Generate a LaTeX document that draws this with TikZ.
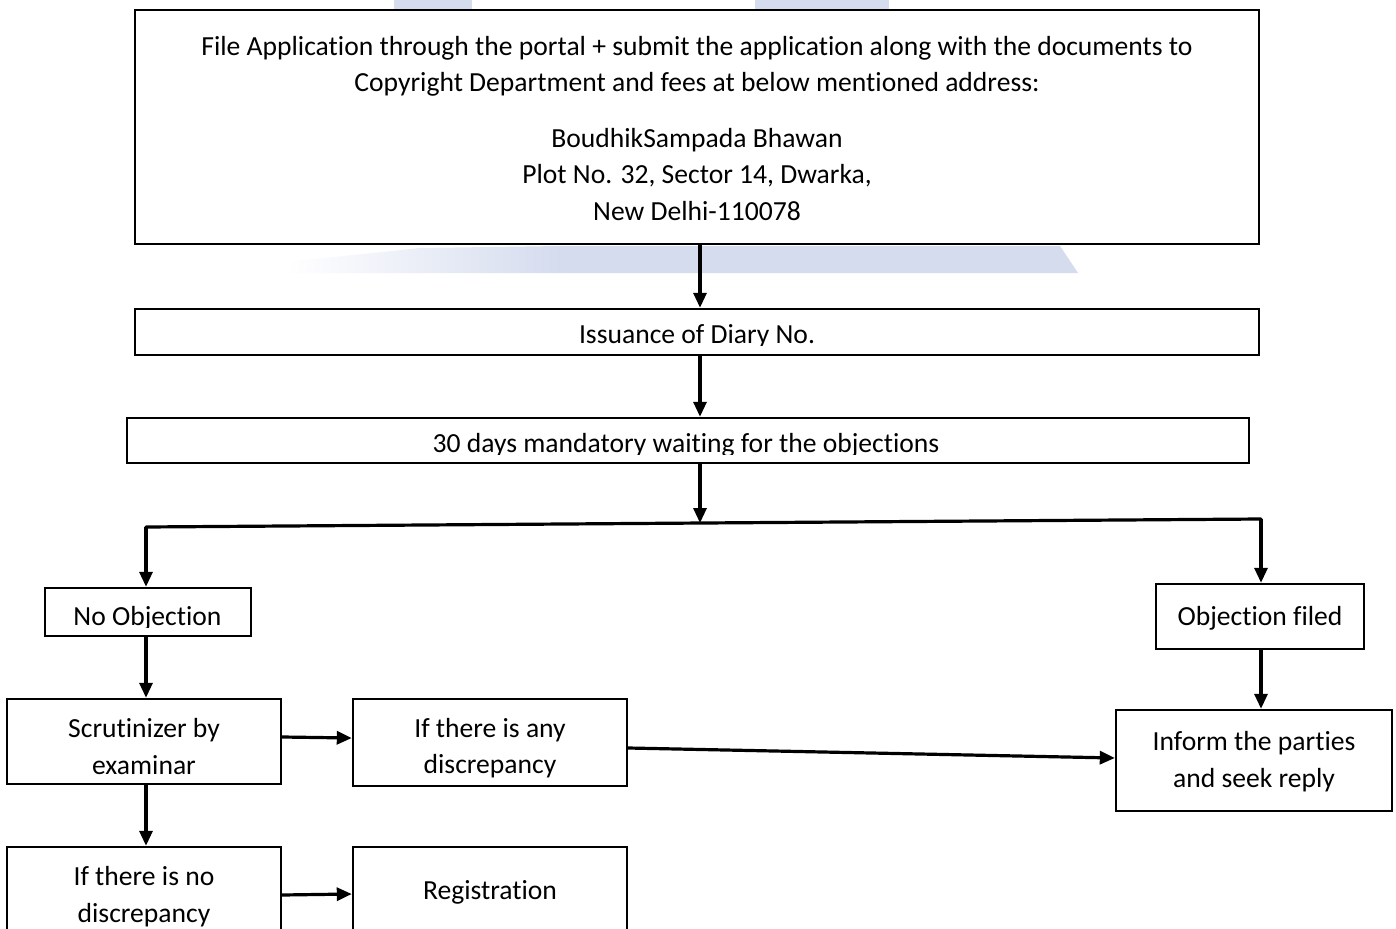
\documentclass[tikz,border=0pt]{standalone}
\usepackage{fontspec}
\setmainfont{Carlito}[Ligatures={NoCommon}]
\usetikzlibrary{arrows.meta,calc}
\definecolor{wm}{RGB}{213,220,238}
\begin{document}
\begin{tikzpicture}[x=1pt,y=-1pt,
  txt/.style={font=\fontsize{27.6}{36.5}\selectfont},
  box/.style={draw=black,line width=2.4pt,fill=white,inner sep=0pt},
  lbl/.style={inner sep=0pt,align=center,txt},
  conn/.style={line width=3.2pt},
  arr/.style={line width=3.2pt,-{Triangle[length=15pt,width=13pt]}}]
\clip (0,0) rectangle (1396,928);
\fill[white] (0,0) rectangle (1396,928);
% watermark
\fill[wm] (394,0) rectangle (472,10);
\fill[wm] (755,0) rectangle (889,10);
\fill[wm] (560,246) -- (1060,246) -- (1078,273) -- (560,273) -- cycle;
\shade[left color=white,right color=wm] (287,262) -- (420,248) -- (560,246) -- (560,273) -- (287,273) -- cycle;

% boxes
\node[box,minimum width=1124pt,minimum height=234pt] (b1) at (697,127) {};
\node[lbl] (t1) at (697,128.5)
  {File Application through the portal + submit the application along with the documents to\\
   Copyright Department and fees at below mentioned address:\\[19pt]
   BoudhikSampada Bhawan\\Plot No. 32, Sector 14, Dwarka,\\New Delhi-110078};

\node[box,minimum width=1124pt,minimum height=46pt] (b2) at (697,332) {};
\begin{scope}
  \clip (b2.north west) rectangle (b2.east |- 0,345.5);
  \node[lbl,anchor=base] (t2) at (697,343) {Issuance of Diary No.};
\end{scope}

\node[box,minimum width=1122pt,minimum height=45pt] (b3) at (688,440.5) {};
\begin{scope}
  \clip (b3.north west) rectangle (b3.east |- 0,454);
  \node[lbl,anchor=base] (t3) at (686,452) {30 days mandatory waiting for the objections};
\end{scope}

\node[box,minimum width=206pt,minimum height=48pt] (noobj) at (148,612) {};
\begin{scope}
  \clip (noobj.north west) rectangle (noobj.east |- 0,627);
  \node[lbl,anchor=base] (tno) at (147.5,625) {No Objection};
\end{scope}

\node[box,minimum width=208pt,minimum height=65pt] (objf) at (1260,616.5) {};
\node[lbl] (tobjf) at ($(objf)+(0,1.5)$) {Objection filed};
\node[box,minimum width=274pt,minimum height=85pt] (scrut) at (144,741.5) {};
\node[lbl] (tscrut) at ($(scrut)+(0,5)$) {Scrutinizer by\\examinar};
\node[box,minimum width=274pt,minimum height=87pt] (any) at (490,742.5) {};
\node[lbl] (tany) at ($(any)+(0,5.5)$) {If there is any\\discrepancy};
\node[box,minimum width=276pt,minimum height=101pt] (inform) at (1254,760.5) {};
\node[lbl] (tinform) at ($(inform)+(0,1)$) {Inform the parties\\and seek reply};
\node[box,minimum width=274pt,minimum height=92pt] (nodisc) at (144,893) {};
\node[lbl] (tnodisc) at ($(nodisc)+(0,3.5)$) {If there is no\\discrepancy};
\node[box,minimum width=274pt,minimum height=90pt] (reg) at (490,892) {};
\node[lbl] (treg) at ($(reg)+(0,0.5)$) {Registration};

% connectors
\coordinate (jl) at (146,527);
\coordinate (jr) at (1261,519);
\coordinate (jm) at (700,523);
\draw[arr] ([xshift=3pt]b1.south) -- ([xshift=3pt]b2.north);
\draw[arr] ([xshift=3pt]b2.south) -- ([xshift=12pt]b3.north);
\draw[arr] ([xshift=12pt]b3.south) -- (jm);
\draw[conn,line cap=round] (jl) -- (jr);
\draw[arr] (jl) -- (jl |- noobj.north);
\draw[arr] (jr) -- (jr |- objf.north);
\draw[arr] (noobj.south -| jl) -- (scrut.north -| jl);
\draw[arr] ([yshift=4.5pt]scrut.east) -- ([yshift=4.5pt]any.west);
\draw[arr] ([yshift=-5.5pt]any.east) -- ([yshift=2.5pt]inform.west);
\draw[arr] (objf.south -| jr) -- (inform.north -| jr);
\draw[arr] (scrut.south -| jl) -- (nodisc.north -| jl);
\draw[arr] ([yshift=-2pt]nodisc.east) -- ([yshift=-2pt]reg.west);
\end{tikzpicture}
\end{document}
